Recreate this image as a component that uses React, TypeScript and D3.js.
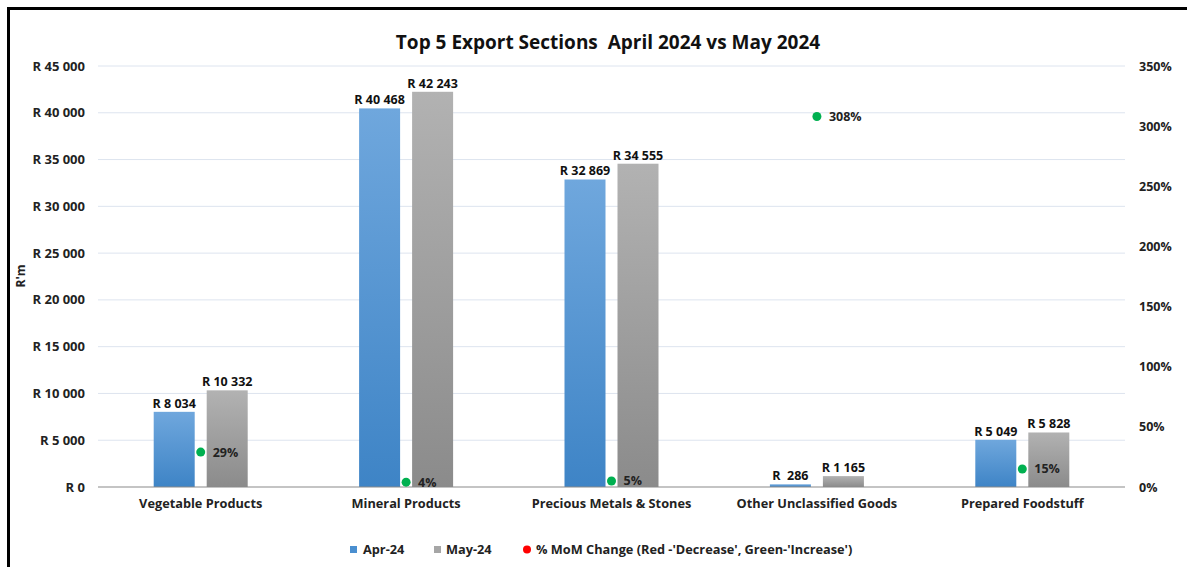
import React from "react";
import * as d3 from "d3";

const categories = ["Vegetable Products", "Mineral Products", "Precious Metals & Stones", "Other Unclassified Goods", "Prepared Foodstuff"];
const apr24 = [8034, 40468, 32869, 286, 5049];
const may24 = [10332, 42243, 34555, 1165, 5828];
const momPct = [29, 4, 5, 308, 15];
const leftTicks = [0, 5000, 10000, 15000, 20000, 25000, 30000, 35000, 40000, 45000];
const rightTicks = [0, 50, 100, 150, 200, 250, 300, 350];
const aprLabels = ["R 8 034", "R 40 468", "R 32 869", "R  286", "R 5 049"];
const mayLabels = ["R 10 332", "R 42 243", "R 34 555", "R 1 165", "R 5 828"];

const W = 1187, H = 567;
const M = { left: 98, right: 1125, top: 66, bottom: 487 };
const FONT = "'Open Sans', sans-serif";

const fmtR = (v: number) => "R " + d3.format(",")(v).replace(/,/g, " ");

export default function App() {
  const x = d3.scaleBand<string>().domain(categories).range([M.left, M.right]);
  const y = d3.scaleLinear().domain([0, 45000]).range([M.bottom, M.top]);
  const y2 = d3.scaleLinear().domain([0, 350]).range([M.bottom, M.top]);
  const barW = 41;
  const off = 26.5;
  const pre = { whiteSpace: "pre" as const };

  return (
    <svg width={W} height={H} style={{ position: "absolute", left: 0, top: 0, fontFamily: FONT }}>
      <defs>
        <linearGradient id="gBlue" x1="0" y1="0" x2="0" y2="1">
          <stop offset="0" stopColor="#6fa7dd" />
          <stop offset="1" stopColor="#3e84c6" />
        </linearGradient>
        <linearGradient id="gGray" x1="0" y1="0" x2="0" y2="1">
          <stop offset="0" stopColor="#b2b2b2" />
          <stop offset="1" stopColor="#8b8b8b" />
        </linearGradient>
      </defs>
      <rect x={0} y={0} width={W} height={H} fill="#fff" />
      <path d={`M8.5,${H + 5} V8.5 H${W + 5}`} fill="none" stroke="#000" strokeWidth={3} />

      <text x={608} y={49} textAnchor="middle" fontSize={19} fontWeight={700} fill="#111" style={pre}>
        {"Top 5 Export Sections  April 2024 vs May 2024"}
      </text>

      {leftTicks.map((t) => (
        <g key={"l" + t}>
          {t > 0 && <line x1={M.left} x2={M.right} y1={y(t)} y2={y(t)} stroke="#dde4ef" strokeWidth={1} />}
          <text x={85} y={y(t) + 4.5} textAnchor="end" fontSize={13} fontWeight={700} fill="#222">{fmtR(t)}</text>
        </g>
      ))}
      {rightTicks.map((t) => (
        <text key={"r" + t} x={1139} y={y2(t) + 4.5} fontSize={12.5} fontWeight={700} fill="#222">{t}%</text>
      ))}
      <text transform={`translate(25,276) rotate(-90)`} textAnchor="middle" fontSize={12} fontWeight={700} fill="#222">R'm</text>

      {categories.map((c, i) => {
        const cx = (x(c) as number) + x.bandwidth() / 2;
        return (
          <g key={c}>
            <rect x={cx - off - barW / 2} y={y(apr24[i])} width={barW} height={M.bottom - y(apr24[i])} fill="url(#gBlue)" />
            <rect x={cx + off - barW / 2} y={y(may24[i])} width={barW} height={M.bottom - y(may24[i])} fill="url(#gGray)" />
            <text x={cx - off} y={y(apr24[i]) - 4} textAnchor="middle" fontSize={12.5} fontWeight={700} fill="#111" style={pre}>{aprLabels[i]}</text>
            <text x={cx + off} y={y(may24[i]) - 4} textAnchor="middle" fontSize={12.5} fontWeight={700} fill="#111">{mayLabels[i]}</text>
            <text x={cx} y={508} textAnchor="middle" fontSize={12.75} fontWeight={700} fill="#222">{c}</text>
          </g>
        );
      })}
      <line x1={M.left} x2={M.right} y1={M.bottom} y2={M.bottom} stroke="#8a8a8a" strokeWidth={1.2} />

      {categories.map((c, i) => {
        const cx = (x(c) as number) + x.bandwidth() / 2;
        return (
          <g key={"p" + c}>
            <circle cx={cx} cy={y2(momPct[i])} r={4.5} fill="#00b050" />
            <text x={cx + 12} y={y2(momPct[i]) + 4.5} fontSize={12.5} fontWeight={700} fill="#222">{momPct[i]}%</text>
          </g>
        );
      })}

      <g fontSize={12.75} fontWeight={700} fill="#222">
        <rect x={350} y={546} width={7} height={7} fill="#4a8fd0" />
        <text x={363} y={554}>Apr-24</text>
        <rect x={434} y={546} width={7} height={7} fill="#a6a6a6" />
        <text x={446} y={554}>May-24</text>
        <circle cx={527} cy={549.5} r={4} fill="#ff0000" />
        <text x={536} y={554}>% MoM Change (Red -'Decrease', Green-'Increase')</text>
      </g>
    </svg>
  );
}
